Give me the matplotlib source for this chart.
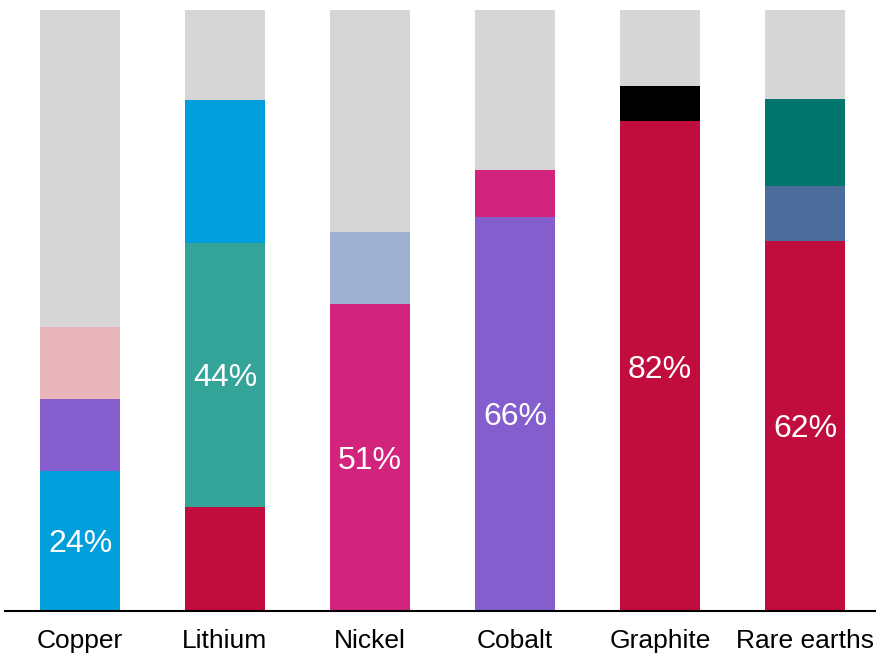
import matplotlib
matplotlib.use("Agg")
import matplotlib.pyplot as plt

plt.rcParams['font.family'] = ['Liberation Sans', 'DejaVu Sans']

categories = ["Copper", "Lithium", "Nickel", "Cobalt", "Graphite", "Rare earths"]

# Each bar: segment values (%) bottom to top, with their colours
copper_vals = [23.3, 12, 12, 52.7]
copper_cols = ["#009edb", "#835ecc", "#e7b5ba", "#d6d6d6"]
lithium_vals = [17.3, 44, 23.8, 14.9]
lithium_cols = ["#c00d3d", "#34a398", "#009edb", "#d6d6d6"]
nickel_vals = [51, 12.1, 36.9]
nickel_cols = ["#d2237d", "#9eb1d0", "#d6d6d6"]
cobalt_vals = [65.6, 7.8, 26.6]
cobalt_cols = ["#835ecc", "#d2237d", "#d6d6d6"]
graphite_vals = [81.5, 5.9, 12.6]
graphite_cols = ["#c00d3d", "#000000", "#d6d6d6"]
rare_vals = [61.6, 9.1, 14.5, 14.8]
rare_cols = ["#c00d3d", "#4c6c9c", "#00766f", "#d6d6d6"]

labels = ["24%", "44%", "51%", "66%", "82%", "62%"]
label_segment = [0, 1, 0, 0, 0, 0]

all_vals = [copper_vals, lithium_vals, nickel_vals, cobalt_vals, graphite_vals, rare_vals]
all_cols = [copper_cols, lithium_cols, nickel_cols, cobalt_cols, graphite_cols, rare_cols]

fig = plt.figure(figsize=(8.76, 6.54), dpi=100)
ax = fig.add_axes([5/876, 1 - 611/654, 871/876, 601/654])

width = 80/145
for i, (vals, cols) in enumerate(zip(all_vals, all_cols)):
    bottom = 0
    for j, (v, c) in enumerate(zip(vals, cols)):
        ax.bar(i, v, bottom=bottom, width=width, color=c, linewidth=0)
        if j == label_segment[i]:
            ax.text(i, bottom + v/2, labels[i], ha='center', va='center_baseline',
                    color='white', fontsize=23)
        bottom += v

ax.set_xlim(-75/145, 5 + 71/145)
ax.set_ylim(0, 100)
for s in ["top", "right", "left"]:
    ax.spines[s].set_visible(False)
ax.spines["bottom"].set_linewidth(1.5)
ax.set_yticks([])
ax.set_xticks(range(len(categories)))
ax.set_xticklabels(categories, fontsize=19)
ax.tick_params(axis='x', length=0, pad=13)

fig.savefig("out.png", dpi=100)
